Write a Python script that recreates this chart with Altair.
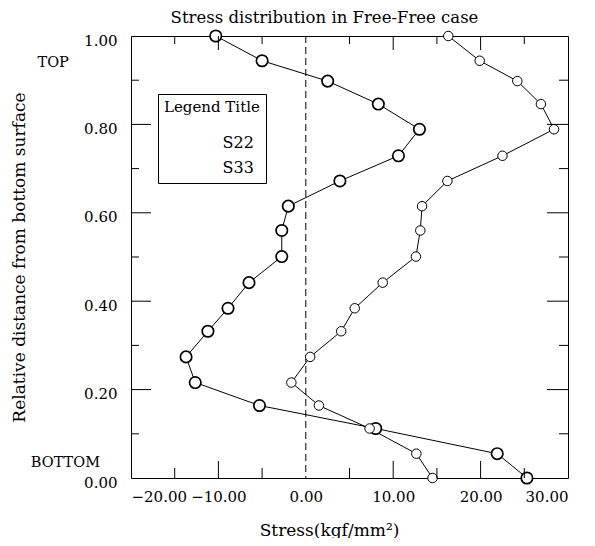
import altair as alt
import pandas as pd

# ---- data ----
rel_dist = [1.0, 0.944, 0.898, 0.846, 0.789, 0.729, 0.672, 0.615, 0.56, 0.501,
            0.442, 0.384, 0.332, 0.274, 0.216, 0.164, 0.112, 0.055, 0.0]
s22 = [-10.3, -5.0, 2.5, 8.3, 13.0, 10.6, 3.9, -2.0, -2.75, -2.75,
       -6.5, -8.9, -11.2, -13.7, -12.65, -5.3, 8.0, 21.9, 25.3]
s33 = [16.3, 19.9, 24.2, 26.9, 28.4, 22.5, 16.2, 13.3, 13.1, 12.6,
       8.8, 5.6, 4.05, 0.5, -1.65, 1.5, 7.3, 12.65, 14.5]
series_names = ["S22", "S33"]

x_ticks = [-20, -10, 0, 10, 20, 30]
y_ticks = [0.0, 0.2, 0.4, 0.6, 0.8, 1.0]
x_major_in = [-10, 10, 20]
x_minor_in = [-15, -5, 5, 15, 25]
y_major_in = [0.2, 0.4, 0.6, 0.8]
y_minor_in = [0.1, 0.3, 0.5, 0.7, 0.9]

annot_text = ["TOP", "BOTTOM"]
annot_x = [-28.9, -27.5]
annot_y = [0.939, 0.034]

W, H = 437, 442
FONT = "DejaVu Serif"

rows = []
for name, vals in zip(series_names, [s22, s33]):
    for i, (s, v) in enumerate(zip(vals, rel_dist)):
        rows.append({"series": name, "stress": s, "dist": v, "idx": i})
df = pd.DataFrame(rows)

xs = alt.Scale(domain=[-20, 30], nice=False, zero=False)
ys = alt.Scale(domain=[0, 1], nice=False, zero=False)

X = alt.X("stress:Q", scale=xs, title="Stress(kgf/mm²)",
          axis=alt.Axis(values=x_ticks, format=".2f", ticks=False, tickSize=0,
                        domain=False, grid=False, labelPadding=11,
                        titleX=198, titleY=57, titleAlign="center",
                        titleBaseline="alphabetic"))
Y = alt.Y("dist:Q", scale=ys, title="Relative distance from bottom surface",
          axis=alt.Axis(values=y_ticks, format=".2f", ticks=False, tickSize=0,
                        domain=False, grid=False, labelPadding=14, labelOffset=4,
                        titleX=-107, titleY=221, titleAngle=-90,
                        titleAlign="center", titleBaseline="alphabetic"))

base = alt.Chart(df)

lines = base.mark_line(color="black", strokeWidth=1).encode(
    x=X, y=Y, detail="series:N", order="idx:Q")

pts22 = base.transform_filter(alt.datum.series == "S22").mark_point(
    filled=True, fill="white", stroke="black", opacity=1, size=130, strokeWidth=1.7).encode(
    x=alt.X("stress:Q", scale=xs), y=alt.Y("dist:Q", scale=ys))
pts33 = base.transform_filter(alt.datum.series == "S33").mark_point(
    filled=True, fill="white", stroke="black", opacity=1, size=90, strokeWidth=1.0).encode(
    x=alt.X("stress:Q", scale=xs), y=alt.Y("dist:Q", scale=ys))

zero_line = alt.Chart(pd.DataFrame({"z": [0]})).mark_rule(
    color="black", strokeWidth=1, strokeDash=[7, 4]).encode(
    x=alt.X("z:Q", scale=xs))

def yt(vals, x0, x1):
    return alt.Chart(pd.DataFrame({"t": vals})).mark_rule(color="black", strokeWidth=1).encode(
        y=alt.Y("t:Q", scale=ys), x=alt.value(x0), x2=alt.value(x1))

def xt(vals, y0, y1):
    return alt.Chart(pd.DataFrame({"t": vals})).mark_rule(color="black", strokeWidth=1).encode(
        x=alt.X("t:Q", scale=xs), y=alt.value(y0), y2=alt.value(y1))

ticks = [
    yt(y_major_in, 0, 20), yt(y_minor_in, 0, 8),
    yt(y_major_in, W - 21, W), yt(y_minor_in, W - 9, W),
    xt(x_major_in, H, H - 17), xt(x_minor_in, H, H - 10),
    xt(x_major_in, 0, 14), xt(x_minor_in, 0, 8),
]

annots = alt.Chart(pd.DataFrame({"t": annot_text, "x": annot_x, "y": annot_y})).mark_text(
    font=FONT, fontSize=14.5, color="black", clip=False).encode(
    x=alt.X("x:Q", scale=xs), y=alt.Y("y:Q", scale=ys), text="t:N")

# legend-only layer (no rows drawn); its explicit shape domain drives the legend
legend_layer = base.transform_filter("datum.dist > 5").mark_point(
    filled=True, fill="white", stroke="black").encode(
    x=alt.X("stress:Q", scale=xs),
    y=alt.Y("dist:Q", scale=ys),
    shape=alt.Shape("series:N", scale=alt.Scale(domain=series_names, range=["circle", "circle"]),
                    legend=alt.Legend(
                        title="Legend Title", orient="none", legendX=27, legendY=58,
                        titleFont=FONT, titleFontSize=15, titleFontWeight="normal",
                        titleColor="black", titlePadding=20,
                        labelFont=FONT, labelFontSize=16, labelColor="black",
                        labelOffset=17.8, symbolOffset=24.8, symbolSize=130,
                        symbolStrokeColor="black", symbolFillColor="white",
                        symbolStrokeWidth=1.4, symbolOpacity=1, rowPadding=7, padding=6,
                        strokeColor="black", fillColor="white")),
)

chart = alt.layer(zero_line, lines, pts22, pts33, *ticks, annots, legend_layer).properties(
    width=W, height=H,
    background="white",
    title=alt.TitleParams("Stress distribution in Free-Free case", font=FONT,
                          fontSize=16.5, fontWeight="normal", color="black",
                          anchor="middle", dx=-25, offset=0),
    autosize=alt.AutoSizeParams(type="none"),
    padding={"left": 123, "top": 28, "right": 15, "bottom": 60},
).configure_view(stroke="black", strokeWidth=1).configure_axis(
    labelFont=FONT, labelFontSize=15, labelColor="black",
    titleFont=FONT, titleFontSize=17, titleFontWeight="normal", titleColor="black",
)

chart.save("out.html", embed_options={"renderer": "svg", "actions": False})
